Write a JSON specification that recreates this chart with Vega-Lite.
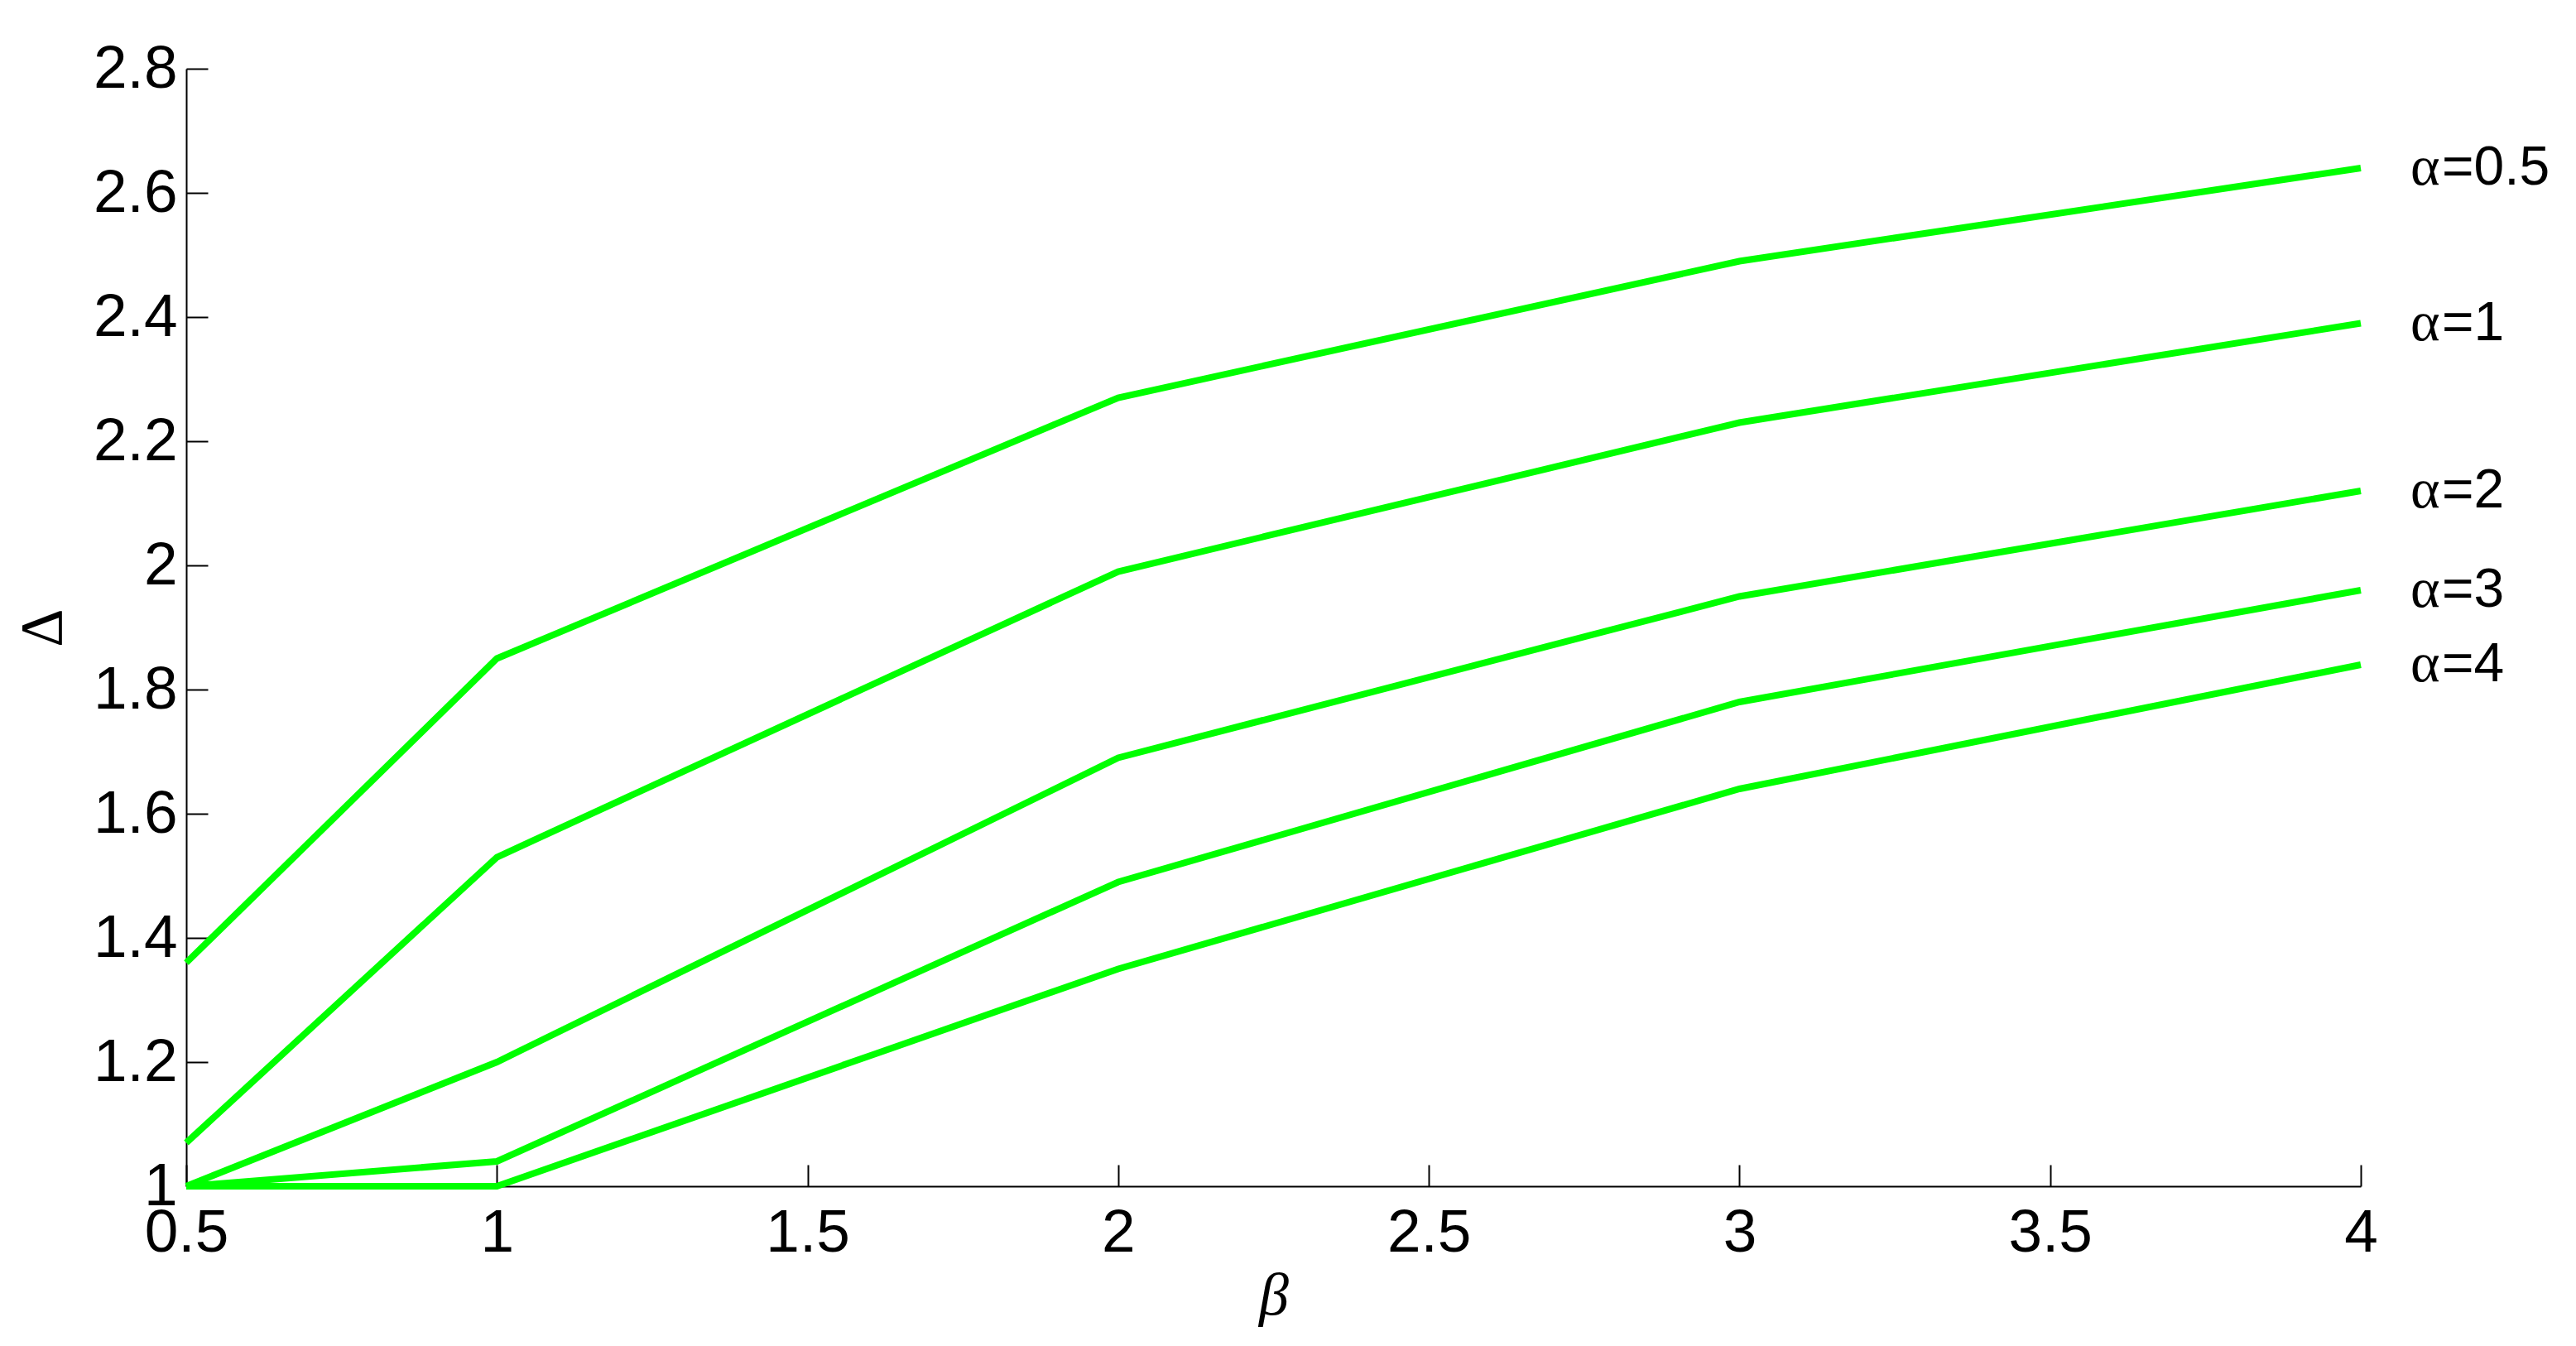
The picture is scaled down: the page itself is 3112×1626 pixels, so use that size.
{
  "$schema": "https://vega.github.io/schema/vega-lite/v6.json",
  "autosize": "none",
  "width": 2627,
  "height": 1350,
  "padding": {"left": 225, "top": 83, "right": 260, "bottom": 193},
  "background": "white",
  "config": {
    "view": {"stroke": null},
    "axis": {
      "grid": false,
      "domainColor": "black",
      "domainWidth": 2,
      "tickColor": "black",
      "tickWidth": 2,
      "tickSize": -26,
      "labelFont": "Liberation Sans",
      "labelFontSize": 73,
      "labelColor": "black",
      "labelOverlap": false,
      "labelFlush": false,
      "labelBound": false,
      "titleFont": "Liberation Serif",
      "titleFontSize": 72,
      "titleFontWeight": "normal",
      "titleColor": "black"
    }
  },
  "datasets": {
    "lines": [
      {"alpha": "0.5", "beta": 0.5, "delta": 1.36},
      {"alpha": "0.5", "beta": 1, "delta": 1.85},
      {"alpha": "0.5", "beta": 2, "delta": 2.27},
      {"alpha": "0.5", "beta": 3, "delta": 2.49},
      {"alpha": "0.5", "beta": 4, "delta": 2.64},
      {"alpha": "1", "beta": 0.5, "delta": 1.07},
      {"alpha": "1", "beta": 1, "delta": 1.53},
      {"alpha": "1", "beta": 2, "delta": 1.99},
      {"alpha": "1", "beta": 3, "delta": 2.23},
      {"alpha": "1", "beta": 4, "delta": 2.39},
      {"alpha": "2", "beta": 0.5, "delta": 1.0},
      {"alpha": "2", "beta": 1, "delta": 1.2},
      {"alpha": "2", "beta": 2, "delta": 1.69},
      {"alpha": "2", "beta": 3, "delta": 1.95},
      {"alpha": "2", "beta": 4, "delta": 2.12},
      {"alpha": "3", "beta": 0.5, "delta": 1.0},
      {"alpha": "3", "beta": 1, "delta": 1.04},
      {"alpha": "3", "beta": 2, "delta": 1.49},
      {"alpha": "3", "beta": 3, "delta": 1.78},
      {"alpha": "3", "beta": 4, "delta": 1.96},
      {"alpha": "4", "beta": 0.5, "delta": 1.0},
      {"alpha": "4", "beta": 1, "delta": 1.0},
      {"alpha": "4", "beta": 2, "delta": 1.35},
      {"alpha": "4", "beta": 3, "delta": 1.64},
      {"alpha": "4", "beta": 4, "delta": 1.84}
    ],
    "labels": [
      {"sym": "α", "rest": "=0.5", "beta": 4, "delta": 2.64},
      {"sym": "α", "rest": "=1", "beta": 4, "delta": 2.39},
      {"sym": "α", "rest": "=2", "beta": 4, "delta": 2.12},
      {"sym": "α", "rest": "=3", "beta": 4, "delta": 1.96},
      {"sym": "α", "rest": "=4", "beta": 4, "delta": 1.84}
    ]
  },
  "encoding": {
    "x": {
      "field": "beta",
      "type": "quantitative",
      "scale": {"domain": [0.5, 4], "nice": false, "zero": false},
      "axis": {
        "title": "β",
        "titleFontStyle": "italic",
        "titlePadding": 4,
        "labelPadding": 46,
        "values": [0.5, 1, 1.5, 2, 2.5, 3, 3.5, 4],
        "format": "~g"
      }
    },
    "y": {
      "field": "delta",
      "type": "quantitative",
      "scale": {"domain": [1, 2.8], "nice": false, "zero": false},
      "axis": {
        "title": "Δ",
        "titlePadding": 24,
        "labelPadding": 37,
        "values": [1, 1.2, 1.4, 1.6, 1.8, 2, 2.2, 2.4, 2.6, 2.8],
        "format": "~g"
      }
    }
  },
  "layer": [
    {
      "data": {"name": "lines"},
      "mark": {"type": "line", "color": "#00ff00", "strokeWidth": 8, "clip": false},
      "encoding": {"detail": {"field": "alpha"}}
    },
    {
      "data": {"name": "labels"},
      "mark": {"type": "text", "font": "Liberation Serif", "fontSize": 68, "align": "left", "baseline": "middle", "dx": 60, "color": "black"},
      "encoding": {"text": {"field": "sym"}}
    },
    {
      "data": {"name": "labels"},
      "mark": {"type": "text", "font": "Liberation Sans", "fontSize": 66, "align": "left", "baseline": "middle", "dx": 98, "color": "black"},
      "encoding": {"text": {"field": "rest"}}
    }
  ]
}
